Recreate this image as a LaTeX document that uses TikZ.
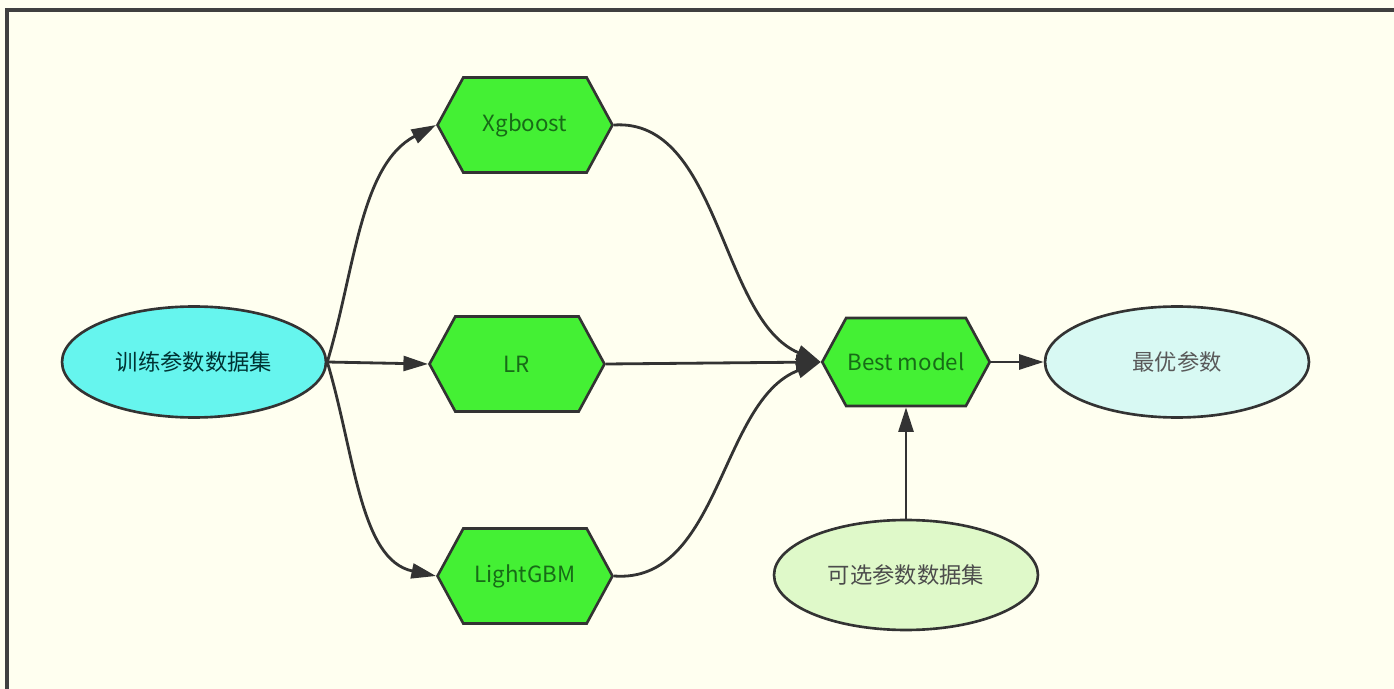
\documentclass[tikz,border=0pt]{standalone}
\usepackage{fontspec}
\setmainfont{Noto Sans CJK SC}
\usepackage{tikz}
\usetikzlibrary{arrows.meta,shapes.geometric,shapes.symbols,positioning}

\definecolor{paper}{HTML}{FFFFF0}
\definecolor{hexfill}{HTML}{44F034}
\definecolor{hextext}{HTML}{176B17}
\definecolor{trainfill}{HTML}{66F5EE}
\definecolor{bestfill}{HTML}{D8F9F3}
\definecolor{candfill}{HTML}{DFF9C9}
\definecolor{edge}{HTML}{333333}

\begin{document}
\begin{tikzpicture}[
    x=0.02cm, y=-0.02cm,
    mdl/.style={signal, signal to=east and west, signal pointer angle=123, draw=edge, line width=1.5pt,
        fill=hexfill, text=hextext, minimum width=3.5cm, minimum height=1.9cm, inner sep=0pt,
        font=\fontsize{12.7pt}{15pt}\selectfont},
    dset/.style={ellipse, draw=edge, line width=1.5pt, minimum width=5.28cm, minimum height=2.22cm,
        inner sep=0pt, font=\fontsize{12.7pt}{15pt}\selectfont},
    arr/.style={-{Triangle[length=14pt, width=8.5pt]}, line width=1.6pt, draw=edge}
]
% paper and frame
\clip (0,0) rectangle (1394,689);
\fill[paper] (0,0) rectangle (1394,689);
\draw[line width=2pt, draw=black!75] (7,10) rectangle (1420,720);

\node[dset, fill=trainfill, text=black!60!teal] (train) at (194,362) {训练参数数据集};
\node[mdl] (xgb) at (525,125) {Xgboost};
\node[mdl] (lr) at (517,364) {LR};
\node[mdl] (lgbm) at (525,576) {LightGBM};
\node[mdl, minimum width=3.35cm, minimum height=1.76cm] (best) at (906,362) {Best model};
\node[dset, fill=bestfill, text=black!65] (opt) at (1177,362) {最优参数};
\node[dset, fill=candfill, text=black!70, minimum height=2.2cm] (cand) at (906,575) {可选参数数据集};

\draw[arr] (train.east) .. controls (355,270) and (360,165) .. (xgb.west);
\draw[arr] (train.east) -- (lr.west);
\draw[arr] (train.east) .. controls (355,455) and (360,560) .. (lgbm.west);
\draw[arr] (xgb.east) .. controls (720,118) and (720,320) .. (best.west);
\draw[arr] (lr.east) -- (best.west);
\draw[arr] (lgbm.east) .. controls (720,584) and (720,400) .. (best.west);
\draw[arr] (best.east) -- (opt.west);
\draw[arr] (cand.north) -- (best.south);
\end{tikzpicture}
\end{document}
